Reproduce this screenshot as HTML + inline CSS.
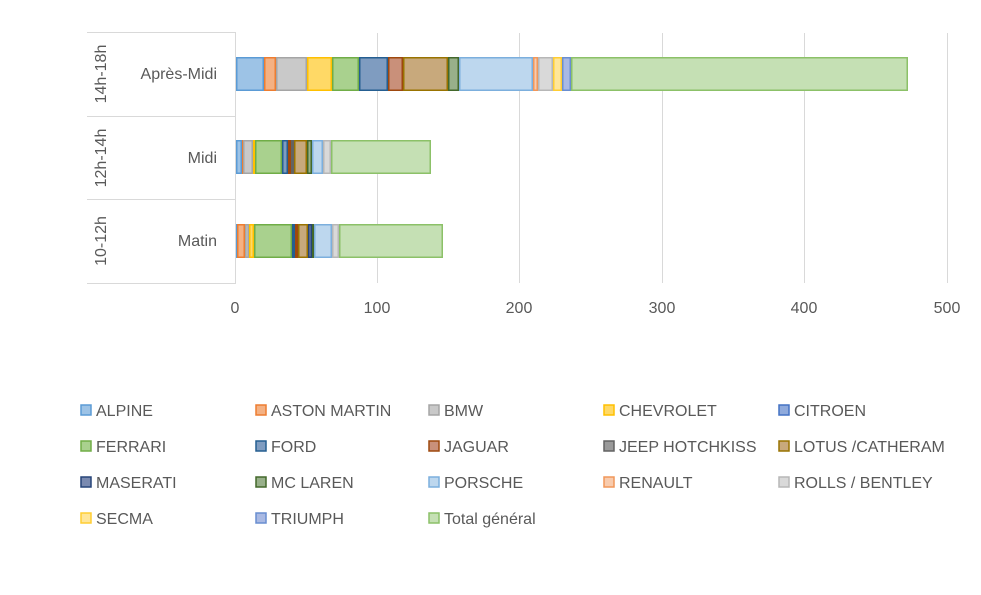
<!DOCTYPE html>
<html><head><meta charset="utf-8"><style>
body{margin:0;background:#fff;}
svg text{font-family:"Liberation Sans",sans-serif;fill:#595959;}
</style></head><body>
<svg id="s" width="981" height="590" xmlns="http://www.w3.org/2000/svg">
<rect width="981" height="590" fill="#fff"/>
<g stroke="#d9d9d9" stroke-width="1">
<line x1="377.5" y1="33" x2="377.5" y2="283"/>
<line x1="519.5" y1="33" x2="519.5" y2="283"/>
<line x1="662.5" y1="33" x2="662.5" y2="283"/>
<line x1="804.5" y1="33" x2="804.5" y2="283"/>
<line x1="947.5" y1="33" x2="947.5" y2="283"/>
<line x1="87" y1="32.5" x2="235" y2="32.5"/>
<line x1="87" y1="116.5" x2="235" y2="116.5"/>
<line x1="87" y1="199.5" x2="235" y2="199.5"/>
<line x1="87" y1="283.5" x2="235" y2="283.5"/>
<line x1="235.5" y1="32" x2="235.5" y2="284"/>
</g>
<g font-size="16" text-anchor="end">
<text x="217" y="79">Après-Midi</text>
<text x="217" y="163">Midi</text>
<text x="217" y="246">Matin</text>
</g>
<g font-size="16" text-anchor="middle">
<text transform="translate(106,74) rotate(-90)">14h-18h</text>
<text transform="translate(106,158) rotate(-90)">12h-14h</text>
<text transform="translate(106,241) rotate(-90)">10-12h</text>
</g>
<g font-size="16" text-anchor="middle">
<text x="235" y="313">0</text>
<text x="377" y="313">100</text>
<text x="519" y="313">200</text>
<text x="662" y="313">300</text>
<text x="804" y="313">400</text>
<text x="947" y="313">500</text>
</g>
<g id="bars"></g>
<g id="leg" font-size="16"></g>
</svg>
<script>
var C={A:["#9dc3e6","#5b9bd5"],AM:["#f4b183","#ed7d31"],B:["#c9c9c9","#a5a5a5"],CH:["#ffd966","#ffc000"],CI:["#8faadc","#4472c4"],FE:["#a9d18e","#70ad47"],FO:["#7f9cc0","#255e91"],JA:["#c9907a","#9e480e"],JE:["#9a9a9a","#636363"],LO:["#c8a97c","#997300"],MA:["#7a8ab0","#264478"],MC:["#98b08a","#43682b"],PO:["#bdd7ee","#7cafdd"],RE:["#f8cbad","#f1975a"],RO:["#d9d9d9","#b7b7b7"],SE:["#ffe699","#ffcd33"],TR:["#a9b9e3","#698ed0"],TO:["#c5e0b4","#8cc168"]};
var rows=[[57,[["A",236,264],["AM",264,276],["B",276,307],["CH",307,332],["FE",332,359],["FO",359,388],["JA",388,403],["LO",403,448],["MC",448,459],["PO",459,533],["RE",533,538],["RO",538,553],["SE",553,562],["TR",562,571],["TO",571,908]]],
[140,[["A",236,242],["AM",242,243],["B",243,253],["CH",253,255],["FE",255,282],["FO",282,288],["JA",288,291],["JE",291,294],["LO",294,307],["MC",307,312],["PO",312,323],["RO",323,331],["TO",331,431]]],
[224,[["A",236,237],["AM",237,245],["B",245,249],["CH",249,254],["FE",254,292],["FO",292,295],["JA",295,298],["LO",298,308],["MA",308,312],["MC",312,314],["PO",314,332],["RO",332,339],["TO",339,443]]]];
var h="";
rows.forEach(function(r){r[1].forEach(function(s){var c=C[s[0]];h+='<rect x="'+(s[1]+0.75)+'" y="'+(r[0]+0.75)+'" width="'+Math.max(s[2]-s[1]-1.5,0.5)+'" height="32.5" fill="'+c[0]+'" stroke="'+c[1]+'" stroke-width="1.5"/>';});});
document.getElementById("bars").innerHTML=h;
var L=[["A","ALPINE"],["AM","ASTON MARTIN"],["B","BMW"],["CH","CHEVROLET"],["CI","CITROEN"],["FE","FERRARI"],["FO","FORD"],["JA","JAGUAR"],["JE","JEEP HOTCHKISS"],["LO","LOTUS /CATHERAM"],["MA","MASERATI"],["MC","MC LAREN"],["PO","PORSCHE"],["RE","RENAULT"],["RO","ROLLS / BENTLEY"],["SE","SECMA"],["TR","TRIUMPH"],["TO","Total général"]];
var xs=[80,255,603-175+0,603,778];xs=[80,255,428,603,778];
var g="";
L.forEach(function(l,i){var x=xs[i%5],y=410+36*Math.floor(i/5);var c=C[l[0]];
g+='<rect x="'+(x+1)+'" y="'+(y-5)+'" width="10" height="10" fill="'+c[0]+'" stroke="'+c[1]+'" stroke-width="1.5"/>';
g+='<text x="'+(x+16)+'" y="'+(y+6)+'">'+l[1]+'</text>';});
document.getElementById("leg").innerHTML=g;
</script>
</body></html>
